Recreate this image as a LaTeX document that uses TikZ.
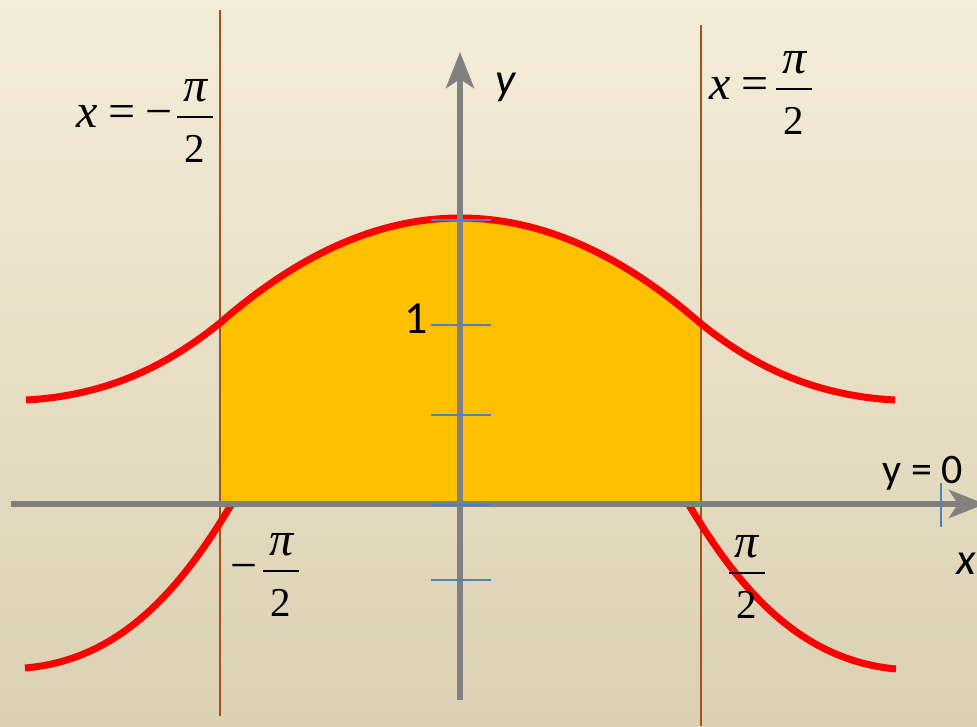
\documentclass[tikz,border=0pt]{standalone}
\usepackage{fontspec}
\setmainfont{Carlito}
\newfontfamily\tnr{Liberation Serif}
\usetikzlibrary{arrows.meta}
\definecolor{bgtop}{RGB}{244,237,217}
\definecolor{bgbot}{RGB}{219,208,178}
\definecolor{areafill}{RGB}{255,192,0}
\definecolor{curvered}{RGB}{255,0,0}
\definecolor{axisgray}{RGB}{128,128,128}
\definecolor{linebrown}{RGB}{166,84,22}
\definecolor{tickblue}{RGB}{79,129,189}
\newcommand{\pifrac}{$\vcenter{\offinterlineskip\halign{\hfil##\hfil\cr
  {\tnr\itshape π}\cr
  \noalign{\kern14pt}
  \vrule width 36pt height 1.9pt depth 0pt\cr
  \noalign{\kern17pt}
  {\tnr\fontsize{41}{41}\selectfont 2}\cr}}$}
\begin{document}
\begin{tikzpicture}[x=1pt,y=-1pt,
  redcurve/.style={curvered, line width=7pt},
  axisline/.style={axisgray, line width=6pt, -{Stealth[length=36pt,width=28pt,inset=9pt]}},
  bound/.style={linebrown, line width=2pt},
  tickmark/.style={tickblue, line width=1.6pt},
  mathlabel/.style={font=\fontsize{48}{56}\selectfont, inner sep=0pt},
  textlabel/.style={font=\fontsize{42}{48}\selectfont, inner sep=0pt}]
\shade[top color=bgtop, bottom color=bgbot] (0,0) rectangle (977,726);
\useasboundingbox (0,0) rectangle (977,726);
% area between the two bounds
\fill[areafill] (220,503) -- (220,323) .. controls (290,262) and (370,218) .. (460,218)
  .. controls (550,218) and (630,262) .. (700,323) -- (700,503) -- cycle;
\draw[bound] (220,10) -- (220,716);
\draw[bound] (701,25) -- (701,726);
% curves
\draw[redcurve] (26,400) .. controls (120,395) and (180,355) .. (220,323)
  .. controls (290,262) and (370,218) .. (460,218)
  .. controls (550,218) and (630,262) .. (700,323)
  .. controls (740,355) and (800,395) .. (895,400);
\draw[redcurve] (231,505) .. controls (180,590) and (120,660) .. (25,668);
\draw[redcurve] (689,505) .. controls (740,590) and (800,660) .. (896,669);
% axes
\coordinate (xstart) at (11,504);
\coordinate (xend) at (985,504);
\coordinate (ystart) at (460,700);
\coordinate (yend) at (460,52);
\draw[axisline] (xstart) -- (xend);
\draw[axisline] (ystart) -- (yend);
\foreach \ty in {220,325,415,505,580}
  \draw[tickmark] (431,\ty) -- (491,\ty);
\draw[tickmark] (941,483) -- (941,527);
% labels
\node[textlabel, anchor=base, font=\fontsize{46}{52}\selectfont] (one) at (416,333) {1};
\node[textlabel, anchor=base] (yzero) at (923,483) {y = 0};
\node[textlabel, anchor=base, font=\fontsize{45}{50}\selectfont\itshape] (ylab) at (506,94) {y};
\node[textlabel, anchor=base west, font=\fontsize{45}{50}\selectfont\itshape] (xlab) at (956,574) {x};
\node[mathlabel] (leftbound) at (145,121) {{\tnr\itshape x}\kern10pt{\tnr =}\kern10pt{\tnr −}\kern5pt\pifrac};
\node[mathlabel] (rightbound) at (761,93) {{\tnr\itshape x}\kern10pt{\tnr =}\kern8pt\pifrac};
\node[mathlabel] (leftpi) at (265,575) {{\tnr −}\kern5pt\pifrac};
\node[mathlabel] (rightpi) at (747,577) {\pifrac};
\end{tikzpicture}
\end{document}
